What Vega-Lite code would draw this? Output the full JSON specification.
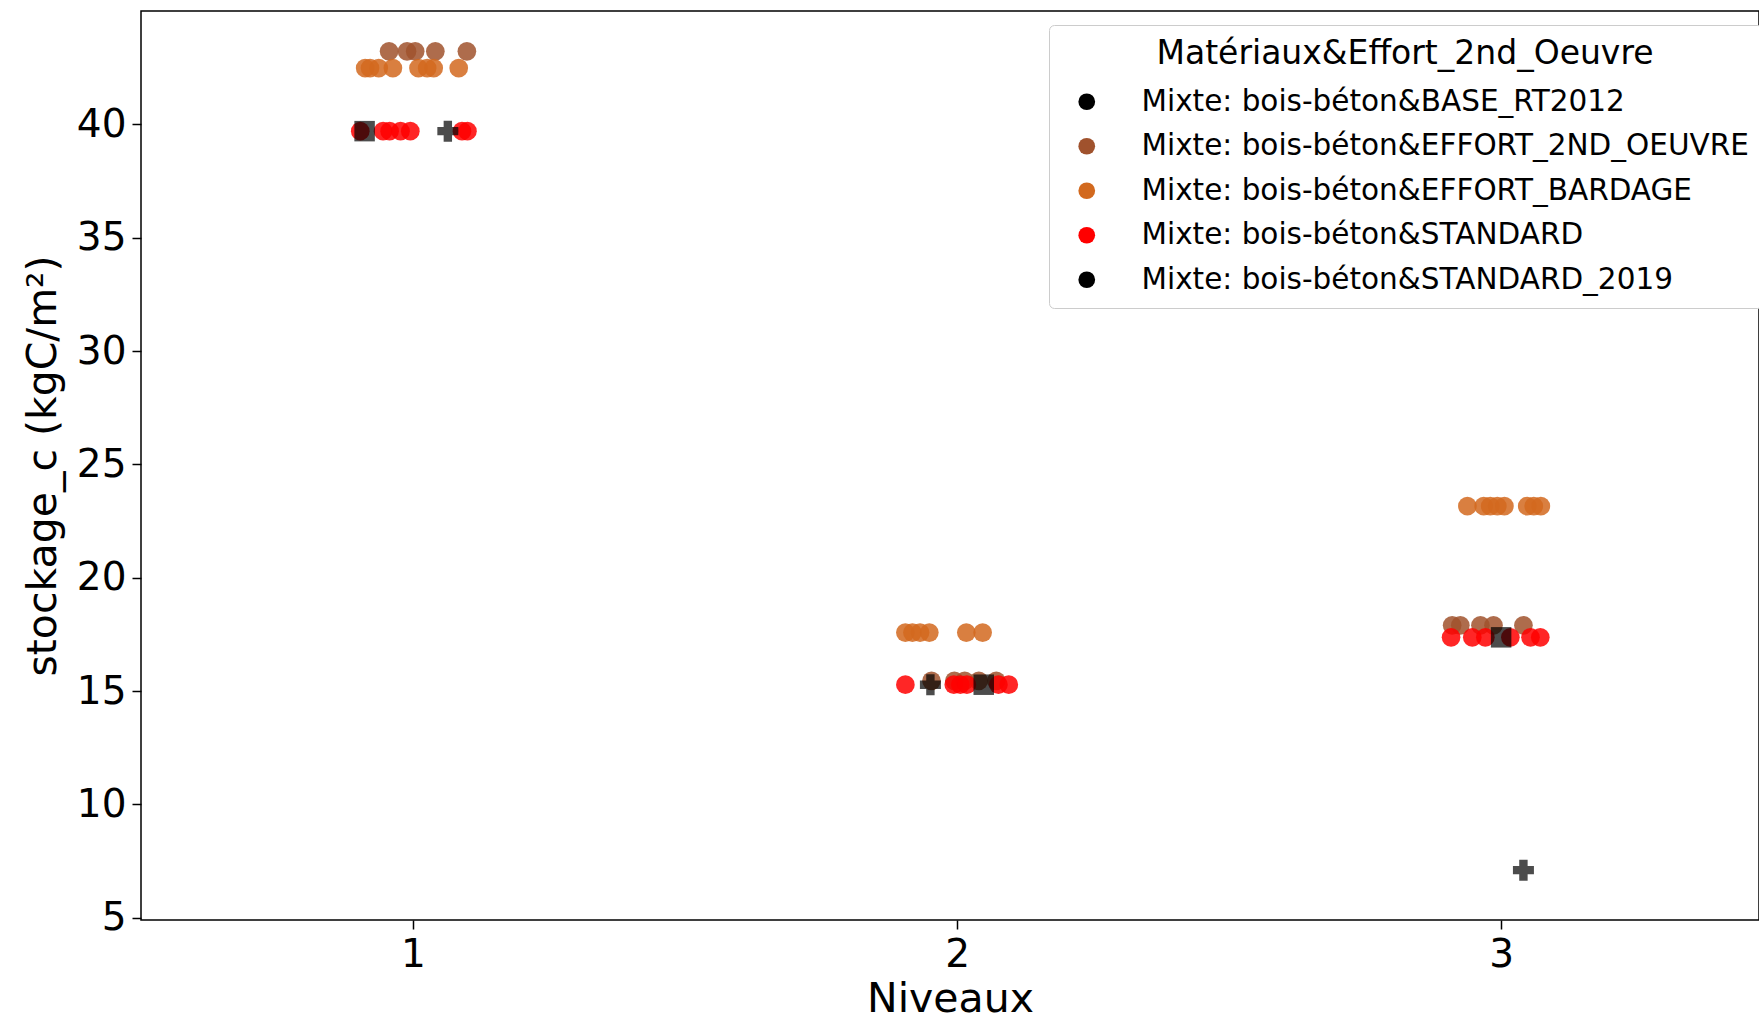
{
  "$schema": "https://vega.github.io/schema/vega-lite/v6.json",
  "width": 1618,
  "height": 909,
  "autosize": {"type": "none"},
  "padding": {"left": 141, "top": 11, "right": 0, "bottom": 100},
  "background": "white",
  "config": {
    "font": "DejaVu Sans",
    "view": {"stroke": "black", "strokeWidth": 1.5},
    "axis": {"grid": false, "domainColor": "black", "domainWidth": 1.5, "tickColor": "black", "tickWidth": 1.5, "tickSize": 9, "labelColor": "black", "titleColor": "black", "labelFont": "DejaVu Sans", "titleFont": "DejaVu Sans", "labelFontSize": 39, "titleFontSize": 41, "titleFontWeight": "normal"}
  },
  "data": {
    "values": [
      {"niveau": 0.956, "stockage_c": 43.22, "serie": "Mixte: bois-béton&EFFORT_2ND_OEUVRE"},
      {"niveau": 0.989, "stockage_c": 43.22, "serie": "Mixte: bois-béton&EFFORT_2ND_OEUVRE"},
      {"niveau": 1.004, "stockage_c": 43.22, "serie": "Mixte: bois-béton&EFFORT_2ND_OEUVRE"},
      {"niveau": 1.041, "stockage_c": 43.22, "serie": "Mixte: bois-béton&EFFORT_2ND_OEUVRE"},
      {"niveau": 1.099, "stockage_c": 43.22, "serie": "Mixte: bois-béton&EFFORT_2ND_OEUVRE"},
      {"niveau": 1.953, "stockage_c": 15.45, "serie": "Mixte: bois-béton&EFFORT_2ND_OEUVRE"},
      {"niveau": 1.995, "stockage_c": 15.45, "serie": "Mixte: bois-béton&EFFORT_2ND_OEUVRE"},
      {"niveau": 2.014, "stockage_c": 15.45, "serie": "Mixte: bois-béton&EFFORT_2ND_OEUVRE"},
      {"niveau": 2.040, "stockage_c": 15.45, "serie": "Mixte: bois-béton&EFFORT_2ND_OEUVRE"},
      {"niveau": 2.072, "stockage_c": 15.45, "serie": "Mixte: bois-béton&EFFORT_2ND_OEUVRE"},
      {"niveau": 2.910, "stockage_c": 17.9, "serie": "Mixte: bois-béton&EFFORT_2ND_OEUVRE"},
      {"niveau": 2.925, "stockage_c": 17.9, "serie": "Mixte: bois-béton&EFFORT_2ND_OEUVRE"},
      {"niveau": 2.962, "stockage_c": 17.9, "serie": "Mixte: bois-béton&EFFORT_2ND_OEUVRE"},
      {"niveau": 2.986, "stockage_c": 17.9, "serie": "Mixte: bois-béton&EFFORT_2ND_OEUVRE"},
      {"niveau": 3.041, "stockage_c": 17.9, "serie": "Mixte: bois-béton&EFFORT_2ND_OEUVRE"},
      {"niveau": 0.912, "stockage_c": 42.48, "serie": "Mixte: bois-béton&EFFORT_BARDAGE"},
      {"niveau": 0.921, "stockage_c": 42.48, "serie": "Mixte: bois-béton&EFFORT_BARDAGE"},
      {"niveau": 0.937, "stockage_c": 42.48, "serie": "Mixte: bois-béton&EFFORT_BARDAGE"},
      {"niveau": 0.963, "stockage_c": 42.48, "serie": "Mixte: bois-béton&EFFORT_BARDAGE"},
      {"niveau": 1.010, "stockage_c": 42.48, "serie": "Mixte: bois-béton&EFFORT_BARDAGE"},
      {"niveau": 1.026, "stockage_c": 42.48, "serie": "Mixte: bois-béton&EFFORT_BARDAGE"},
      {"niveau": 1.038, "stockage_c": 42.48, "serie": "Mixte: bois-béton&EFFORT_BARDAGE"},
      {"niveau": 1.084, "stockage_c": 42.48, "serie": "Mixte: bois-béton&EFFORT_BARDAGE"},
      {"niveau": 1.905, "stockage_c": 17.58, "serie": "Mixte: bois-béton&EFFORT_BARDAGE"},
      {"niveau": 1.918, "stockage_c": 17.58, "serie": "Mixte: bois-béton&EFFORT_BARDAGE"},
      {"niveau": 1.932, "stockage_c": 17.58, "serie": "Mixte: bois-béton&EFFORT_BARDAGE"},
      {"niveau": 1.949, "stockage_c": 17.58, "serie": "Mixte: bois-béton&EFFORT_BARDAGE"},
      {"niveau": 2.017, "stockage_c": 17.58, "serie": "Mixte: bois-béton&EFFORT_BARDAGE"},
      {"niveau": 2.047, "stockage_c": 17.58, "serie": "Mixte: bois-béton&EFFORT_BARDAGE"},
      {"niveau": 2.938, "stockage_c": 23.16, "serie": "Mixte: bois-béton&EFFORT_BARDAGE"},
      {"niveau": 2.968, "stockage_c": 23.16, "serie": "Mixte: bois-béton&EFFORT_BARDAGE"},
      {"niveau": 2.980, "stockage_c": 23.16, "serie": "Mixte: bois-béton&EFFORT_BARDAGE"},
      {"niveau": 2.993, "stockage_c": 23.16, "serie": "Mixte: bois-béton&EFFORT_BARDAGE"},
      {"niveau": 3.006, "stockage_c": 23.16, "serie": "Mixte: bois-béton&EFFORT_BARDAGE"},
      {"niveau": 3.048, "stockage_c": 23.16, "serie": "Mixte: bois-béton&EFFORT_BARDAGE"},
      {"niveau": 3.060, "stockage_c": 23.16, "serie": "Mixte: bois-béton&EFFORT_BARDAGE"},
      {"niveau": 3.073, "stockage_c": 23.16, "serie": "Mixte: bois-béton&EFFORT_BARDAGE"},
      {"niveau": 0.903, "stockage_c": 39.7, "serie": "Mixte: bois-béton&STANDARD"},
      {"niveau": 0.945, "stockage_c": 39.7, "serie": "Mixte: bois-béton&STANDARD"},
      {"niveau": 0.957, "stockage_c": 39.7, "serie": "Mixte: bois-béton&STANDARD"},
      {"niveau": 0.977, "stockage_c": 39.7, "serie": "Mixte: bois-béton&STANDARD"},
      {"niveau": 0.995, "stockage_c": 39.7, "serie": "Mixte: bois-béton&STANDARD"},
      {"niveau": 1.090, "stockage_c": 39.7, "serie": "Mixte: bois-béton&STANDARD"},
      {"niveau": 1.100, "stockage_c": 39.7, "serie": "Mixte: bois-béton&STANDARD"},
      {"niveau": 1.905, "stockage_c": 15.28, "serie": "Mixte: bois-béton&STANDARD"},
      {"niveau": 1.994, "stockage_c": 15.28, "serie": "Mixte: bois-béton&STANDARD"},
      {"niveau": 2.006, "stockage_c": 15.28, "serie": "Mixte: bois-béton&STANDARD"},
      {"niveau": 2.018, "stockage_c": 15.28, "serie": "Mixte: bois-béton&STANDARD"},
      {"niveau": 2.076, "stockage_c": 15.28, "serie": "Mixte: bois-béton&STANDARD"},
      {"niveau": 2.095, "stockage_c": 15.28, "serie": "Mixte: bois-béton&STANDARD"},
      {"niveau": 2.908, "stockage_c": 17.37, "serie": "Mixte: bois-béton&STANDARD"},
      {"niveau": 2.947, "stockage_c": 17.37, "serie": "Mixte: bois-béton&STANDARD"},
      {"niveau": 2.971, "stockage_c": 17.37, "serie": "Mixte: bois-béton&STANDARD"},
      {"niveau": 3.017, "stockage_c": 17.37, "serie": "Mixte: bois-béton&STANDARD"},
      {"niveau": 3.054, "stockage_c": 17.37, "serie": "Mixte: bois-béton&STANDARD"},
      {"niveau": 3.072, "stockage_c": 17.37, "serie": "Mixte: bois-béton&STANDARD"},
      {"niveau": 0.911, "stockage_c": 39.7, "serie": "Mixte: bois-béton&STANDARD_2019"},
      {"niveau": 2.049, "stockage_c": 15.28, "serie": "Mixte: bois-béton&STANDARD_2019"},
      {"niveau": 3.000, "stockage_c": 17.37, "serie": "Mixte: bois-béton&STANDARD_2019"},
      {"niveau": 1.064, "stockage_c": 39.7, "serie": "Mixte: bois-béton&BASE_RT2012"},
      {"niveau": 1.951, "stockage_c": 15.28, "serie": "Mixte: bois-béton&BASE_RT2012"},
      {"niveau": 3.041, "stockage_c": 7.1, "serie": "Mixte: bois-béton&BASE_RT2012"}
    ]
  },
  "encoding": {
    "x": {
      "field": "niveau", "type": "quantitative", "title": "Niveaux",
      "scale": {"domain": [0.5, 3.474], "nice": false, "zero": false},
      "axis": {"values": [1, 2, 3], "format": "d", "labelPadding": 6, "titlePadding": 5, "domain": false}
    },
    "y": {
      "field": "stockage_c", "type": "quantitative", "title": "stockage_c (kgC/m²)",
      "scale": {"domain": [4.9, 45.0], "nice": false, "zero": false},
      "axis": {"values": [5, 10, 15, 20, 25, 30, 35, 40], "labelPadding": 6, "titlePadding": 12, "domain": false}
    },
    "color": {
      "field": "serie", "type": "nominal",
      "scale": {
        "domain": ["Mixte: bois-béton&BASE_RT2012", "Mixte: bois-béton&EFFORT_2ND_OEUVRE", "Mixte: bois-béton&EFFORT_BARDAGE", "Mixte: bois-béton&STANDARD", "Mixte: bois-béton&STANDARD_2019"],
        "range": ["#000000", "#a0522d", "#d2691e", "#ff0000", "#000000"]
      },
      "legend": {
        "title": "Matériaux&Effort_2nd_Oeuvre",
        "orient": "none", "legendX": 908, "legendY": 14, "direction": "vertical",
        "fillColor": "white", "strokeColor": "#cccccc", "cornerRadius": 5,
        "padding": 13,
        "titleFont": "DejaVu Sans", "titleFontSize": 33, "titleFontWeight": "normal", "titleColor": "black", "titleAnchor": "middle", "titlePadding": 16, "titleLimit": 1000,
        "labelFont": "DejaVu Sans", "labelFontSize": 29.5, "labelColor": "black", "labelOffset": 40, "labelLimit": 1000,
        "symbolType": "circle", "symbolSize": 280, "symbolOffset": 10, "symbolOpacity": 1, "symbolStrokeWidth": 0,
        "rowPadding": 13.5
      }
    }
  },
  "layer": [
    {
      "transform": [{"filter": "indexof(['Mixte: bois-béton&EFFORT_2ND_OEUVRE','Mixte: bois-béton&EFFORT_BARDAGE','Mixte: bois-béton&STANDARD'], datum.serie) >= 0"}],
      "mark": {"type": "point", "filled": true, "shape": "circle", "size": 350, "opacity": 0.85, "strokeWidth": 0}
    },
    {
      "transform": [{"filter": "datum.serie == 'Mixte: bois-béton&STANDARD_2019'"}],
      "mark": {"type": "point", "filled": true, "shape": "square", "size": 420, "opacity": 0.7, "strokeWidth": 0}
    },
    {
      "transform": [{"filter": "datum.serie == 'Mixte: bois-béton&BASE_RT2012'"}],
      "mark": {"type": "point", "filled": true, "shape": "cross", "size": 441, "opacity": 0.7, "strokeWidth": 0}
    }
  ]
}
